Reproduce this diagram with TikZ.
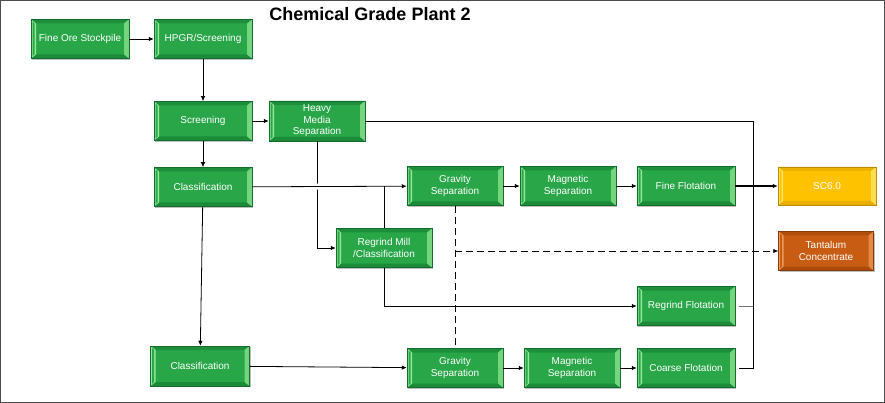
\documentclass[tikz,border=0pt]{standalone}
\usepackage{fontspec}
\setmainfont{Liberation Sans}
\usetikzlibrary{arrows.meta,shadows}

\definecolor{gmain}{RGB}{40,166,72}
\definecolor{gdark}{RGB}{22,128,52}
\definecolor{glight}{RGB}{150,232,150}
\definecolor{ymain}{RGB}{255,194,0}
\definecolor{ydark}{RGB}{225,165,0}
\definecolor{ylight}{RGB}{255,232,115}
\definecolor{omain}{RGB}{199,92,18}
\definecolor{odark}{RGB}{160,68,10}
\definecolor{olight}{RGB}{240,155,95}

\tikzset{
  bevel/.style n args={3}{
    fill=#1, draw=#3!85!black, line width=0.5pt,
    path picture={
      \path (path picture bounding box.north west) coordinate (@nw)
            (path picture bounding box.north east) coordinate (@ne)
            (path picture bounding box.south west) coordinate (@sw)
            (path picture bounding box.south east) coordinate (@se);
      \fill[#3!60!#1] (@nw) -- (@ne) -- ([shift={(-5pt,-4pt)}]@ne) -- ([shift={(5pt,-4pt)}]@nw) -- cycle;
      \fill[#3!70!#1] (@sw) -- (@se) -- ([shift={(-5pt,4pt)}]@se) -- ([shift={(5pt,4pt)}]@sw) -- cycle;
      \fill[#2] (@nw) -- ([shift={(5pt,-4pt)}]@nw) -- ([shift={(5pt,4pt)}]@sw) -- (@sw) -- cycle;
      \fill[#1] ([shift={(1.5pt,-2pt)}]@nw) -- ([shift={(3.5pt,-4pt)}]@nw) -- ([shift={(3.5pt,4pt)}]@sw) -- ([shift={(1.5pt,2pt)}]@sw) -- cycle;
      \fill[#2!70!#1] (@ne) -- ([shift={(-5pt,-4pt)}]@ne) -- ([shift={(-5pt,4pt)}]@se) -- (@se) -- cycle;
    }},
  box/.style={bevel={gmain}{glight}{gdark}, text=white, align=center,
    font=\fontsize{10}{11.5}\selectfont, inner sep=1pt,
    minimum width=98pt, minimum height=39pt,
    drop shadow={shadow xshift=1.2pt, shadow yshift=-1.2pt, fill=black, opacity=0.25}},
  ybox/.style={box, bevel={ymain}{ylight}{ydark}},
  obox/.style={box, bevel={omain}{olight}{odark}},
  conn/.style={draw=black, line width=0.8pt},
  arr/.style={conn, -{Latex[length=5pt,width=4.5pt]}},
  hop/.style={preaction={draw=white, line width=6pt, -, shorten >=6pt, shorten <=6pt}},
}

\begin{document}
\begin{tikzpicture}[x=1pt,y=-1pt]
  \path[fill=white, draw=black!70, line width=1.2pt] (0.6,0.6) rectangle (884.4,402.4);
  \useasboundingbox (0,0) rectangle (885,403);

  \node[font=\bfseries\fontsize{18}{20}\selectfont] (title) at (370,14) {Chemical Grade Plant 2};

  \node[box] (fos) at (80,39) {Fine Ore Stockpile};
  \node[box] (hpgr) at (203,39) {HPGR/Screening};
  \node[box] (scr) at (203,121) {Screening};
  \node[box, minimum width=96pt, minimum height=40pt] (hms) at (317,121) {Heavy\\Media\\Separation};
  \node[box] (cls1) at (203,187) {Classification};
  \node[box, minimum width=96pt] (gs1) at (455,186) {Gravity\\Separation};
  \node[box, minimum width=96pt] (ms1) at (568,186) {Magnetic\\Separation};
  \node[box] (ff) at (686,186) {Fine Flotation};
  \node[ybox, minimum height=38pt] (sc) at (827,186) {SC6.0};
  \node[box, minimum width=96pt] (rgm) at (384,248) {Regrind Mill\\/Classification};
  \node[obox, minimum width=95pt] (tan) at (826,251) {Tantalum\\Concentrate};
  \node[box] (rgf) at (686,306) {Regrind Flotation};
  \node[box, minimum width=99pt, minimum height=40pt] (cls2) at (200,366) {Classification};
  \node[box, minimum width=96pt] (gs2) at (455,368) {Gravity\\Separation};
  \node[box, minimum width=96pt] (ms2) at (572,368) {Magnetic\\Separation};
  \node[box] (cf) at (686,368) {Coarse Flotation};

  \coordinate (t1) at (753,121);
  \coordinate (t2) at (753,368);
  \coordinate (d1) at (455,251);

  \draw[arr] (fos) -- (hpgr);
  \draw[arr] (hpgr) -- (scr);
  \draw[arr] (scr) -- (hms);
  \draw[arr] (scr) -- (cls1);
  \draw[arr] (hms.south) -- (hms.south |- rgm.west) -- (rgm.west);
  \draw[arr, hop] (cls1) -- (gs1);
  \draw[conn] (rgm.north) -- (rgm.north |- gs1.west);
  \draw[arr] (rgm.south) -- (rgm.south |- rgf.west) -- (rgf.west);
  \draw[arr] (cls1) -- (cls2);
  \draw[arr] (cls2) -- (gs2);
  \draw[arr] (gs1) -- (ms1);
  \draw[arr] (ms1) -- (ff);
  \draw[arr] (gs2) -- (ms2);
  \draw[arr] (ms2) -- (cf);
  \draw[conn] (hms) -- (t1) -- (t2) -- ([xshift=4pt]cf.east);
  \draw[conn, draw=black!55, line width=1pt] ([xshift=4pt]rgf.east) -- (rgf.east -| t1);
  \draw[arr, line width=1.3pt] (ff) -- (sc);
  \draw[conn, dash pattern=on 7pt off 4pt] (gs1) -- (gs2);
  \draw[arr, dash pattern=on 7pt off 4pt] (d1) -- (tan);
\end{tikzpicture}
\end{document}
